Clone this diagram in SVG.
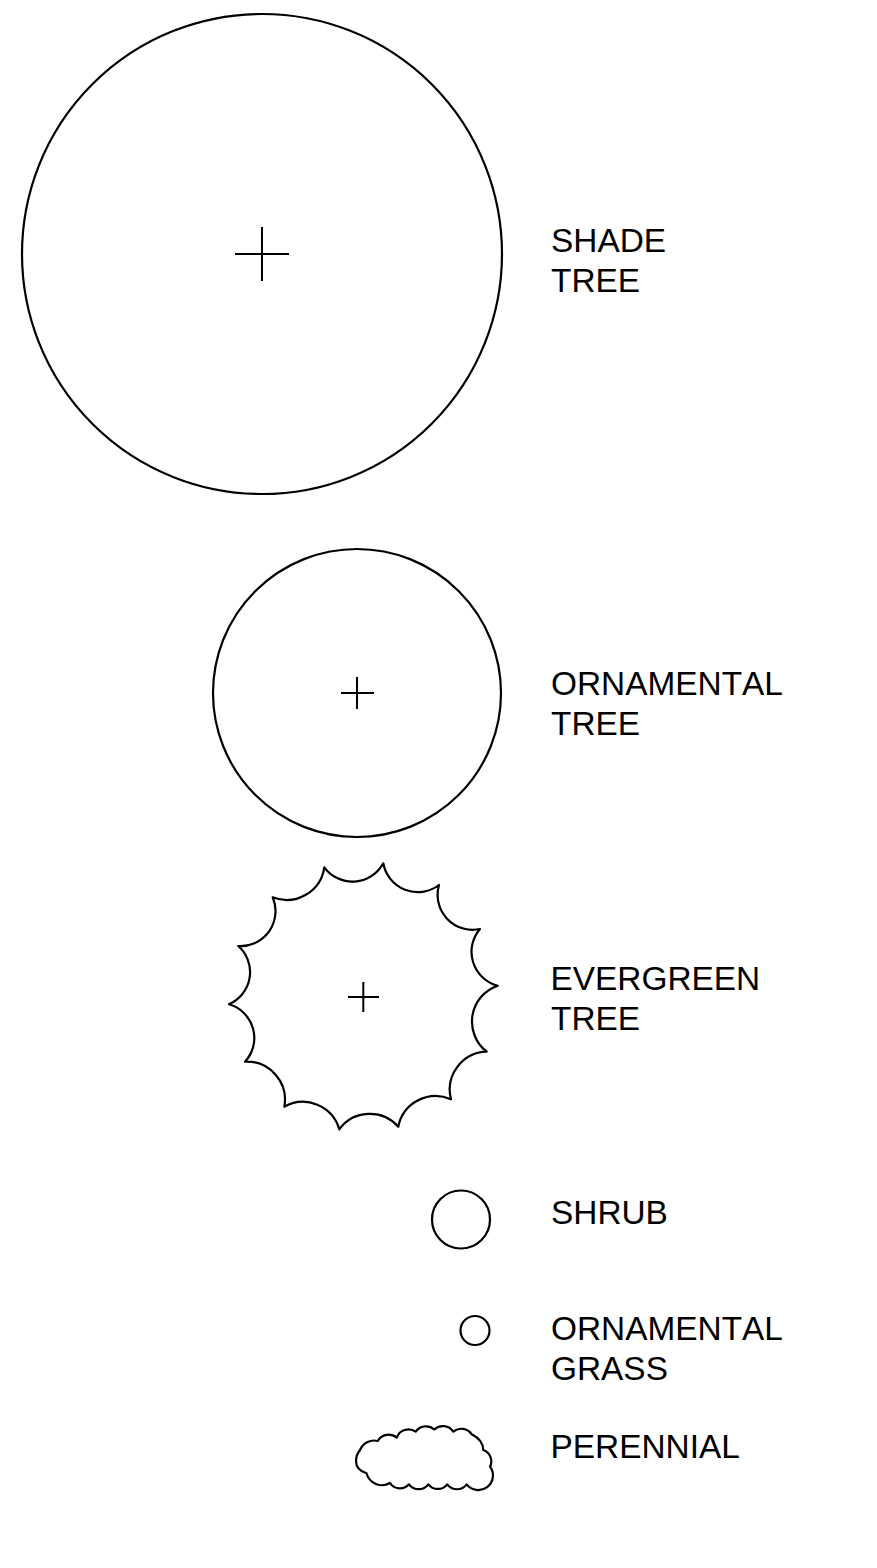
<svg xmlns="http://www.w3.org/2000/svg" width="877" height="1568" viewBox="0 0 877 1568">
<style>
.s{fill:none;stroke:#000;stroke-width:2.200;stroke-linejoin:round}
.c{fill:none;stroke:#000;stroke-width:2}
text{font-family:"Liberation Sans",Arial,sans-serif;font-size:33.4px;fill:#000;font-kerning:none}
</style>
<rect width="877" height="1568" fill="#fff"/>
<g id="shade-tree">
<circle class="s" cx="262" cy="254" r="240"/>
<path class="c" d="M235 254H289M262 227V281"/>
<text x="551" y="251.500">SHADE</text><text x="551" y="291.500">TREE</text>
</g>
<g id="ornamental-tree">
<circle class="s" cx="357" cy="693" r="144"/>
<path class="c" d="M341 693H374M357 677V709"/>
<text x="551" y="694.500">ORNAMENTAL</text><text x="551" y="734.500">TREE</text>
</g>
<g id="evergreen-tree">
<path class="s" d="M383.300 863.300A35 35 0 0 0 439 885A35 35 0 0 0 480 929A35 35 0 0 0 497.700 985.700A38 38 0 0 0 486.700 1051.700A38 38 0 0 0 451 1099.300A38 38 0 0 0 398.300 1126.700A38 38 0 0 0 339.300 1129.300A38 38 0 0 0 284.300 1106.700A38 38 0 0 0 245 1061.700A35 35 0 0 0 229 1004.300A35 35 0 0 0 238.300 946A35 35 0 0 0 272.700 897.300A38 38 0 0 0 324.300 867.300A35 35 0 0 0 383.300 863.300Z"/>
<path class="c" d="M348 997H379M363.300 982V1012"/>
<text x="550.500" y="989.500">EVERGREEN</text><text x="551" y="1029.500">TREE</text>
</g>
<g id="shrub">
<circle class="s" cx="461" cy="1219.500" r="29"/>
<text x="551" y="1223.500">SHRUB</text>
</g>
<g id="ornamental-grass">
<circle class="s" cx="475" cy="1330.500" r="14.500"/>
<text x="551" y="1339.500">ORNAMENTAL</text><text x="551" y="1379.500">GRASS</text>
</g>
<g id="perennial">
<path class="s" d="M360 1450A15 15 0 0 1 377.700 1441A12.500 12.500 0 0 1 396.700 1437.700A12.500 12.500 0 0 1 415.700 1431.700A12.500 12.500 0 0 1 434.300 1429.500A12.500 12.500 0 0 1 453.300 1431.700A12.500 12.500 0 0 1 471.700 1434.300Q483 1440 483.300 1450A12 12 0 0 1 490 1466.700A13 13 0 0 1 466.700 1484.300A12 12 0 0 1 447.300 1484.300A12 12 0 0 1 428.300 1484.300A12 12 0 0 1 409 1484.300A12 12 0 0 1 390 1483A16 16 0 0 1 366.500 1473.300Q356 1470 356 1461Q356 1455 360 1450Z"/>
<text x="550.500" y="1457.500">PERENNIAL</text>
</g>
<g id="connectors"/>
</svg>
